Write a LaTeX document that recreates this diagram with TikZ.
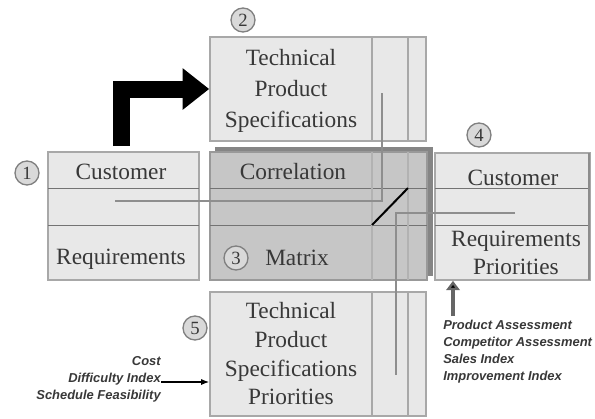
\documentclass[tikz,border=0pt]{standalone}
\usepackage{fontspec}
\setmainfont{Liberation Serif}
\newfontfamily\notefont{Liberation Sans}
\usetikzlibrary{arrows.meta}
\definecolor{boxfill}{HTML}{E8E8E8}
\definecolor{boxline}{HTML}{A8A8A8}
\definecolor{matfill}{HTML}{C6C6C6}
\definecolor{matshadow}{HTML}{858585}
\definecolor{txt}{HTML}{383838}
\definecolor{conn}{HTML}{8E8E8E}
\begin{document}
\begin{tikzpicture}[x=0.75pt,y=-0.75pt,
  panel/.style={draw=boxline, fill=boxfill, line width=1.2pt, inner sep=0pt},
  lbl/.style={text=txt, font=\fontsize{17.5}{21}\selectfont, inner sep=0pt, align=center},
  num/.style={circle, draw=gray, fill=gray!30, line width=1pt, minimum size=18pt, inner sep=0pt, text=txt, font=\fontsize{14}{14}\selectfont},
  note/.style={font=\notefont\bfseries\itshape\fontsize{9.7}{12.75}\selectfont, text=txt, inner sep=0pt},
  rowline/.style={draw=black!55, line width=0.6pt},
  colline/.style={draw=boxline, line width=1pt},
  conn/.style={draw=conn, line width=1.3pt},
  bigarrow/.style={draw=black, line width=12.75pt, line join=miter, -{Triangle[length=20pt,width=30pt]}},
]
\useasboundingbox (0,0) rectangle (595,418);
% boxes
\node[panel, minimum width=113.25pt, minimum height=96pt] (cr) at (123.5,216) {};
\node[panel, minimum width=162pt, minimum height=78pt] (tps) at (318,89) {};
\node[draw=matshadow, fill=matshadow, minimum width=162.75pt, minimum height=96pt, inner sep=0pt] (shadow) at (323.5,211) {};
\node[draw=black!40, fill=matfill, line width=1pt, minimum width=162.75pt, minimum height=96pt, inner sep=0pt] (mat) at (318.5,216) {};
\node[panel, minimum width=116.25pt, minimum height=95.25pt] (crp) at (512.5,216.5) {};
\node[panel, minimum width=162pt, minimum height=93pt] (tpsp) at (318,354) {};
% rows and columns
\draw[rowline] (48,188) -- (199,188) (48,225) -- (199,225);
\draw[rowline] (210,188) -- (427,188) (210,225) -- (427,225);
\draw[rowline] (435,188) -- (590,188) (435,225) -- (590,225);
\draw[draw=black!45, line width=2pt] (589,153) -- (589,280);
\draw[colline] (372,37) -- (372,141) (408,37) -- (408,141);
\draw[colline, draw=black!30] (372,152) -- (372,280) (408,152) -- (408,280);
\draw[colline] (372,292) -- (372,416) (408,292) -- (408,416);
% connectors
\coordinate (c1) at (115,201);
\coordinate (c2) at (382,93);
\coordinate (c3) at (515,213);
\coordinate (c4) at (396,375);
\draw[conn] (c1) -| (c2);
\draw[conn] (c3) -| (c4);
\draw[black, line width=1.5pt] (372,225) -- (408,188);
\coordinate (a0) at (121.5,146);
\draw[bigarrow] (a0) |- (tps.west);
% texts
\node[lbl] (t1) at (121,172) {Customer};
\node[lbl] (t2) at (121,259) {Requirements};
\node[lbl, font=\fontsize{17.5}{23}\selectfont] (t3) at (291,91) {Technical\\Product\\Specifications};
\node[lbl] (t4) at (293,172) {Correlation};
\node[lbl] (t5) at (297,258) {Matrix};
\node[lbl] (t6) at (513,178) {Customer};
\node[lbl] (t7) at (516,253) {Requirements\\Priorities};
\node[lbl, font=\fontsize{17.5}{21.5}\selectfont] (t8) at (291,354) {Technical\\Product\\Specifications\\Priorities};
% numbers
\node[num] (n1) at (27,173) {1};
\node[num] (n2) at (243,20) {2};
\node[num] (n3) at (236,258) {3};
\node[num] (n4) at (479,135) {4};
\node[num] (n5) at (195,328) {5};
% notes
\node[note, anchor=east, align=right] (left) at (161,379) {Cost\\Difficulty Index\\Schedule Feasibility};
\draw[-{Latex[length=6pt]}, line width=0.9pt] (left.east |- 0,382) -- (tpsp.west |- 0,382);
\node[note, anchor=north west, align=left] (right) at (443,320) {Product Assessment\\Competitor Assessment\\Sales Index\\Improvement Index};
\draw[draw=black!60, line width=3pt, -{Triangle[length=7pt,width=10pt,fill=black]}] (453,316) -- (crp.south -| 453,0);
\end{tikzpicture}
\end{document}
